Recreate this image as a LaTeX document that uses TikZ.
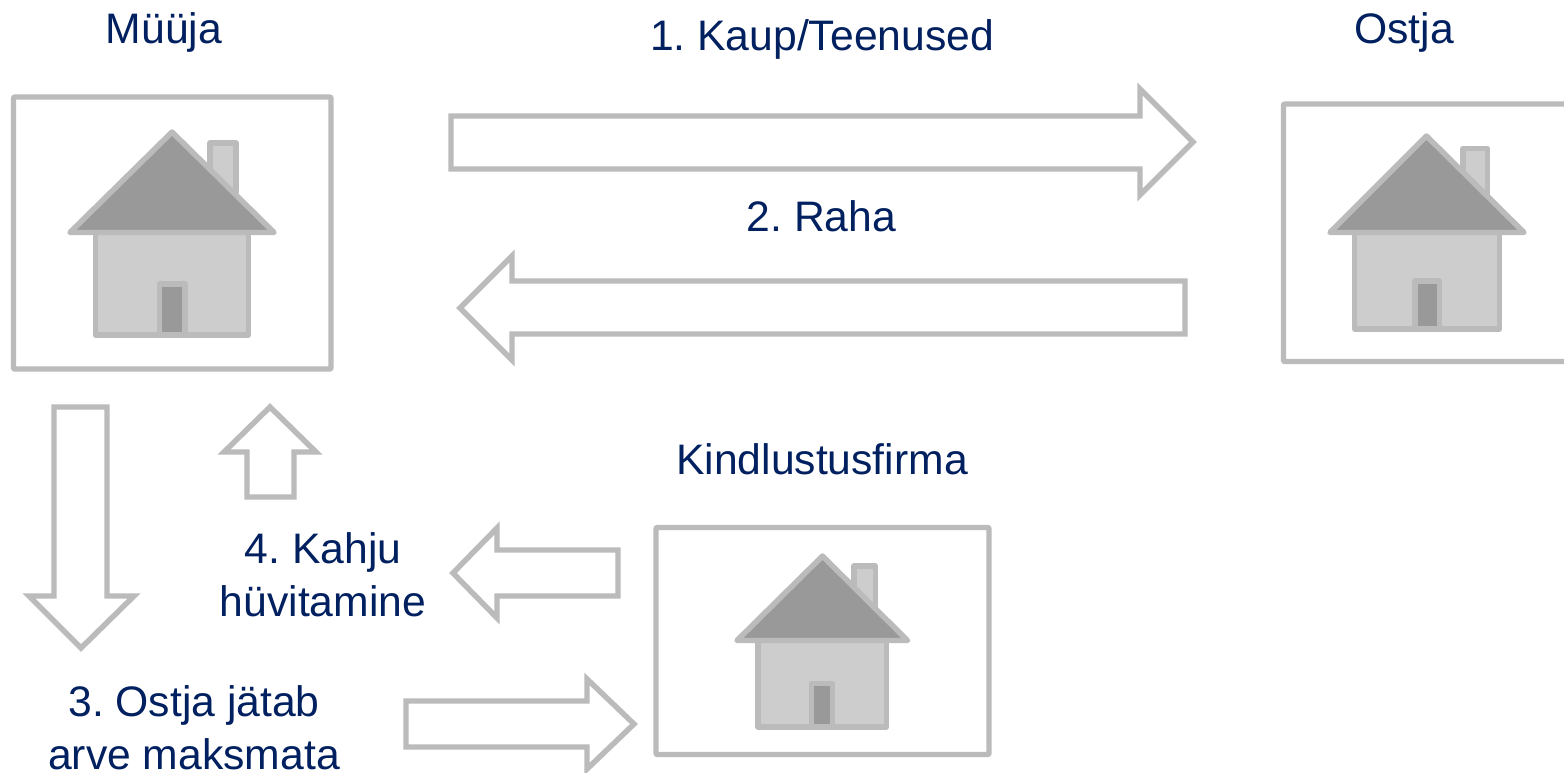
\documentclass[tikz,border=0pt]{standalone}
\usepackage{fontspec}
\setmainfont{Liberation Sans}
\definecolor{strokegray}{HTML}{BBBBBB}
\definecolor{lightgray2}{HTML}{CDCDCD}
\definecolor{darkgray2}{HTML}{999999}
\definecolor{labelblue}{HTML}{002060}
\tikzset{
  framebox/.style={draw=strokegray,line width=4.1pt,fill=white,rectangle,inner sep=0pt,rounded corners=0.8pt,line join=round},
  blockarrow/.style={draw=strokegray,line width=4.1pt,fill=white,line join=miter,miter limit=6},
  lightpart/.style={draw=strokegray,line width=4.1pt,fill=lightgray2,line join=round},
  darkpart/.style={draw=strokegray,line width=4.1pt,fill=darkgray2,line join=round},
  label/.style={text=labelblue,font=\fontsize{32}{40}\selectfont\frenchspacing,align=center,inner sep=0pt}
}
\begin{document}
\begin{tikzpicture}[x=0.75pt,y=-0.75pt]
\clip (0,0) rectangle (1564,772);
\fill[white] (0,0) rectangle (1564,772);
% frames
\draw[framebox] (13.5,97) rectangle (331,369);
\draw[framebox] (1283.5,104) rectangle (1590,361.5);
\draw[framebox] (656,527.5) rectangle (989,754.5);
% house 1
\draw[lightpart] (210,192) -- (210,143) -- (236,143) -- (236,192) -- cycle;
\draw[lightpart] (95.5,232.5) rectangle (248.5,335);
\draw[darkpart] (172,132) -- (274,232.5) -- (70,232.5) -- cycle;
\draw[darkpart] (159.5,335) -- (159.5,284) -- (185,284) -- (185,335) -- cycle;
% house 2
\draw[lightpart] (1463,195) -- (1463,148.5) -- (1487.5,148.5) -- (1487.5,195) -- cycle;
\draw[lightpart] (1354.5,232.5) rectangle (1499.5,329);
\draw[darkpart] (1426.5,136) -- (1524,232.5) -- (1330,232.5) -- cycle;
\draw[darkpart] (1415,329) -- (1415,281) -- (1439.5,281) -- (1439.5,329) -- cycle;
% house 3
\draw[lightpart] (854,608) -- (854,566) -- (875.5,566) -- (875.5,608) -- cycle;
\draw[lightpart] (758,640.5) rectangle (886.5,727);
\draw[darkpart] (822.5,556) -- (907.5,640.5) -- (737,640.5) -- cycle;
\draw[darkpart] (811.5,727) -- (811.5,683.5) -- (832.5,683.5) -- (832.5,727) -- cycle;
% block arrows
\draw[blockarrow] (451,116) -- (1140,116) -- (1140,89) -- (1193,142) -- (1140,195) -- (1140,169) -- (451,169) -- cycle;
\draw[blockarrow] (1185,281) -- (512,281) -- (512,256) -- (460,308) -- (512,360) -- (512,334) -- (1185,334) -- cycle;
\draw[blockarrow] (54,407) -- (107,407) -- (107,596) -- (134,596) -- (81,648) -- (29,596) -- (54,596) -- cycle;
\draw[blockarrow] (247,497) -- (294,497) -- (294,452) -- (316,452) -- (270,407) -- (224,452) -- (247,452) -- cycle;
\draw[blockarrow] (618,550) -- (497,550) -- (497,528) -- (453,573) -- (497,618) -- (497,596) -- (618,596) -- cycle;
\draw[blockarrow] (406,701) -- (587,701) -- (587,679) -- (634,724) -- (587,769) -- (587,747) -- (406,747) -- cycle;
% labels
\node[label] (seller) at (164,32.5) {Müüja};
\node[label] (goods) at (822,39) {1. Kaup/Teenused};
\node[label] (buyer) at (1404,32) {Ostja};
\node[label] (money) at (821.5,216.5) {2. Raha};
\node[label] (insurer) at (822,459) {Kindlustusfirma};
\node[label] (comp) at (323,575) {4. Kahju\\hüvitamine};
\node[label] (unpaid) at (194,728) {3. Ostja jätab\\arve maksmata};
\end{tikzpicture}
\end{document}
